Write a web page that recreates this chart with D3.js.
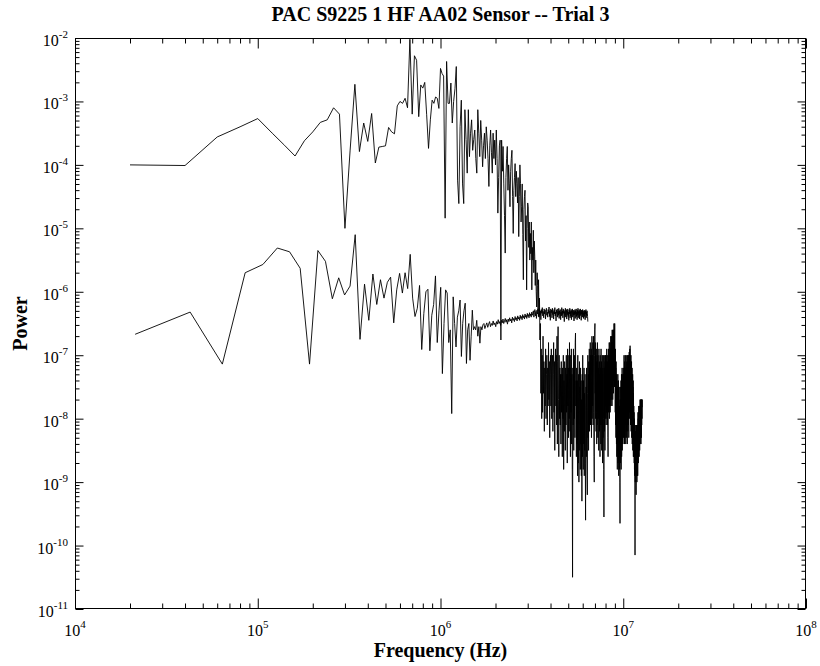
<!DOCTYPE html>
<html><head><meta charset="utf-8">
<script src="https://cdn.jsdelivr.net/npm/d3@7"></script>
<style>body{margin:0;background:#fff} svg{display:block}</style>
</head><body>
<svg id="chart" width="820" height="666"></svg>
<script>
const chartTitle = "PAC S9225 1 HF AA02 Sensor -- Trial 3";
const xAxisLabel = "Frequency (Hz)";
const yAxisLabel = "Power";
const xTickExponents = [4, 5, 6, 7, 8];
const yTickExponents = [-11, -10, -9, -8, -7, -6, -5, -4, -3, -2];

// Upper trace (signal): FFT bins starting at 20 kHz, 20 kHz apart; values are log10(Power)
const upperFreqStart = 20000;
const upperFreqStep = 20000;
const upperLog10Power = [
-4.00,-4.01,-3.56,-3.40,-3.27,-3.50,-3.69,-3.86,-3.62,-3.48,
-3.33,-3.29,-3.10,-3.20,-5.00,-3.78,-2.73,-3.79,-3.34,-3.63,
-3.19,-3.97,-3.72,-3.71,-3.70,-3.41,-3.48,-3.51,-3.07,-3.00,
-3.03,-2.95,-3.10,-2.02,-3.20,-2.28,-2.35,-3.24,-2.74,-2.79,
-2.70,-3.21,-3.74,-3.29,-2.98,-3.03,-2.93,-2.95,-3.11,-2.48,
-2.56,-2.60,-4.84,-2.37,-3.03,
-3.03,-2.71,-3.34,-3.0,-2.8,-2.45,-4.24,-4.61,-3.4,-2.98,
-4.3,-4.61,-3.13,-3.6,-4.13,-3.13,-3.87,-3.5,-3.29,-3.77,
-3.6,-3.45,-3.9,-4.13,-3.13,-3.5,-3.87,-3.3,-3.61,-4.03,
-3.7,-3.50,-3.9,-3.4,-3.61,-3.9,-4.34,-3.7,-3.45,-3.8,
-4.13,-3.5,-3.9,-3.61,-4.0,-3.45,-3.9,-4.76,-4.2,-3.7,
-3.61,-6.76,-3.61,-4.1,-3.71,-4.3,-4.8,-5.39,-4.2,-3.9,
-3.71,-4.4,-4.0,-4.3,-4.66,-4.1,-3.9,-3.77,-4.5,-5.08,
-4.4,-4.2,-3.98,-4.5,-4.1,-4.29,-4.6,-4.2,-5.13,-4.5,
-4.0,-4.29,-4.9,-4.66,-4.3,-5.1,-5.81,-4.7,-4.5,-4.40,
-5.2,-4.8,-5.97,-5.0,-4.6,-4.66,-5.3,-4.9,-5.5,-5.08,
-5.4,-4.9,-5.97,-5.3,-5.5,-5.03,-5.7,-5.2,-5.45,-5.9,
-5.5,-6.0,-6.24,-5.7,-5.9,-6.3,-5.81,-6.4,-6.1,-6.76,
-6.5,-7.6,-6.9,-8.0,-7.0,-7.9,-6.7,-7.6,-7.1,-8.2,-7.2,-7.8,-6.9,-8.0,-7.3,-7.0,-8.1,-7.2,-7.8,-6.8,-7.7,-7.1,-8.3,-7.3,-7.0,
-7.8,-6.9,-8.0,-7.2,-7.0,-8.2,-7.3,-6.8,-7.9,-7.1,-8.5,-7.2,-6.9,-7.8,-7.0,-8.1,-6.7,-8.4,-7.1,-6.55,-7.7,-8.6,-7.0,-8.0,-7.2,
-8.1,-7.3,-8.4,-7.1,-7.9,-7.3,-8.6,-7.2,-8.0,-7.0,-8.8,-7.4,-8.2,-7.1,-7.9,-8.5,-7.2,-8.1,-7.0,-7.9,-7.3,-8.7,-6.9,-7.8,-7.2,
-8.3,-7.0,-8.0,-6.8,-8.2,-7.2,-8.6,-7.0,-7.9,-6.9,-8.4,-7.3,-8.8,-10.5,-7.2,-8.1,-6.9,-8.5,-7.1,-8.0,-7.0,-8.3,-6.8,-6.65,-7.8,
-7.4,-8.6,-7.2,-8.4,-7.4,-8.9,-7.0,-8.3,-8.7,-7.3,-9.0,-7.6,-7.1,-8.5,-7.5,-8.8,-7.2,-8.4,-7.4,-8.9,-7.7,-9.3,-7.3,-8.6,-7.0,-8.3,-8.8,-7.4,-8.4,-7.2,-8.9,-7.6,-8.5,-7.3,-8.7,-9.6,-7.8,
-7.5,-8.6,-7.2,-8.4,-8.9,-9.2,-7.6,-7.0,-8.3,-7.3,-8.5,-7.1,-8.1,-6.9,-8.2,-7.2,-8.0,-6.8,-8.1,-7.0,-7.9,-6.9,-8.3,-7.1,-6.7,-8.0,-7.0,-7.8,-6.8,-8.1,-7.0,-6.7,-7.9,-8.6,-9.0,-7.0,-6.6,-6.5,
-7.6,-6.8,-8.0,-7.0,-8.2,-6.9,-7.9,-8.4,-7.1,-8.1,
-6.8,-7.8,-8.3,-7.0,-8.0,-7.2,-8.5,-6.9,-7.9,-7.1,
-8.2,-7.3,-8.6,-7.0,-8.1,-7.2,-8.4,-6.9,-8.0,-7.1,
-8.5,-7.3,-8.1,-7.0,-8.7,-7.4,-7.2,-8.3,-7.0,-8.0,
-8.8,-9.55,-7.4,-7.0,-8.2,-7.2,-8.5,-7.1,-8.0,-7.0,
-7.8,-7.0,-8.1,-7.1,-7.9,-6.9,-8.0,-7.2,-7.0,-8.1,
-7.1,-8.3,-8.6,-7.2,-6.9,-7.9,-7.0,-7.8,-6.8,-8.0,
-7.0,-7.7,-6.8,-7.9,-6.9,-7.6,-6.7,-7.8,-6.9,-7.7,
-6.7,-7.5,-6.8,-7.8,-6.6,-7.5,-6.8,-7.7,-6.6,-7.4,
-6.7,-7.6,-6.6,-7.4,-6.5,-7.3,-6.6,-7.5,-6.5,-7.2,
-7.0,-7.9,-6.9,-8.1,-7.2,-8.3,-7.1,-8.0,-8.4,-7.3,
-8.6,-7.4,-8.2,-8.8,-7.5,-8.4,-7.3,-8.7,-7.6,-8.5,
-7.4,-8.9,-7.7,-8.6,-7.5,-8.8,-7.8,-8.5,-9.0,-9.65,
-7.9,-7.5,-8.7,-7.7,-8.5,-7.4,-8.8,-7.8,-7.3,-8.6,
-7.6,-8.4,-7.2,-8.5,-7.5,-8.3,-7.3,-8.4,-7.4,-8.2,
-7.3,-8.3,-7.2,-8.1,-7.0,-8.2,-7.3,-8.4,-7.1,-8.0,
-7.2,-8.3,-7.0,-8.1,-7.3,-8.4,-7.2,-8.0,-7.0,-8.2,
-7.3,-8.3,-7.1,-8.1,-7.2,-8.4,-7.0,-8.0,-7.3,-8.2,
-7.1,-8.1,-7.0,-7.9,-7.2,-8.3,-7.0,-7.8,-6.95,-8.0,
-7.1,-7.9,-6.9,-7.7,-6.85,-7.8,-7.0,-8.1,-7.1,-7.9,
-7.0,-8.2,-7.2,-8.0,-7.1,-8.3,-7.3,-8.1,-7.2,-8.4,
-7.4,-8.2,-7.3,-8.5,-7.5,-8.3,-7.4,-8.6,-7.6,-8.4,
-7.8,-8.6,-7.9,-8.7,-8.0,-8.8,-8.1,-8.9,-8.2,-10.15,
-8.3,-9.0,-8.2,-8.9,-8.1,-8.8,-8.2,-9.2,-8.3,-8.9,
-8.1,-8.8,-8.2,-9.0,-8.3,-8.9,-8.1,-8.8,-8.2,-8.9,
-8.3,-7.9,-8.6,-8.0,-8.7,-7.9,-8.5,-7.8,-8.4,-7.9,
-8.6,-7.8,-8.4,-7.9,-8.5,-7.8,-8.3,-7.7,-8.4,-7.8,
-8.3,-7.7,-8.2,-7.8,-8.4,-7.7,-8.2,-7.75,-8.3,-7.7,
-8.1,-7.7,-8.0,-7.7,-7.82
];

// Lower trace (noise): FFT bins 21.333 kHz apart; values are log10(Power)
const lowerFreqStart = 21333.33;
const lowerFreqStep = 21333.33;
const lowerLog10Power = [
-6.67,-6.32,-7.14,-5.70,-5.57,-5.31,-5.37,-5.63,-7.14,-5.35,-5.52,-6.11,-5.78,-6.05,-5.91,-5.10,
-6.75,-5.88,-6.45,-5.72,-6.20,-5.81,-6.1,-5.85,-5.77,-6.49,-5.97,-5.71,-6.02,-5.70,
-5.95,-5.41,-6.1,-6.39,-6.26,-5.9,-6.91,-6.34,-6.0,-5.96,-6.93,-6.37,-6.2,-5.75,-6.8,-6.3,
-5.93,-7.29,-6.5,-5.97,-6.02,-6.8,-6.6,-7.92,-6.08,-6.5,-6.87,-6.4,-6.3,-6.13,
-7.02,-6.5,-6.3,-6.18,-7.13,-6.6,-6.50,-7.08,-6.7,-6.29,-6.6,-6.55,-6.60,-6.45,-6.7,-6.55,-6.81,-6.55,-6.6,-6.52,
-6.50,-6.58,-6.53,-6.49,-6.56,-6.51,-6.47,-6.55,-6.50,-6.53,
-6.46,-6.52,-6.49,-6.55,-6.47,-6.51,-6.44,-6.50,-6.47,-6.53,
-6.45,-6.49,-6.43,-6.50,-6.46,-6.42,-6.48,-6.44,-6.51,-6.43,
-6.47,-6.41,-6.46,-6.43,-6.49,-6.40,-6.45,-6.42,-6.47,-6.39,
-6.44,-6.41,-6.46,-6.38,-6.43,-6.40,-6.45,-6.37,-6.42,-6.39,
-6.44,-6.36,-6.41,-6.38,-6.43,-6.35,-6.40,-6.37,-6.42,-6.34,
-6.39,-6.36,-6.41,-6.33,-6.38,-6.35,-6.40,-6.32,-6.37,-6.34,
-6.30,-6.40,-6.33,-6.28,-6.38,-6.31,-6.42,-6.29,-6.35,-6.27,
-6.39,-6.32,-6.26,-6.37,-6.30,-6.44,-6.28,-6.34,-6.25,-6.38,
-6.31,-6.41,-6.27,-6.35,-6.29,-6.43,-6.30,-6.26,-6.37,-6.32,
-6.40,-6.28,-6.34,-6.24,-6.39,-6.30,-6.45,-6.27,-6.33,-6.29,
-6.41,-6.26,-6.36,-6.31,-6.43,-6.28,-6.35,-6.25,-6.38,-6.32,
-6.46,-6.29,-6.34,-6.27,-6.40,-6.31,-6.37,-6.26,-6.42,-6.30,
-6.35,-6.28,-6.44,-6.32,-6.38,-6.25,-6.36,-6.30,-6.41,-6.27,
-6.34,-6.29,-6.47,-6.31,-6.37,-6.26,-6.40,-6.33,-6.28,-6.43,
-6.30,-6.36,-6.27,-6.39,-6.32,-6.45,-6.29,-6.35,-6.26,-6.41,
-6.31,-6.38,-6.28,-6.44,-6.30,-6.34,-6.27,-6.40,-6.33,-6.37,
-6.29,-6.46,-6.31,-6.36,-6.28,-6.42,-6.30,-6.35,-6.27,-6.39,
-6.32,-6.44,-6.29,-6.37,-6.26,-6.41,-6.31,-6.34,-6.28,-6.43,
-6.30,-6.38,-6.27,-6.36,-6.32,-6.45,-6.29,-6.35,-6.31,-6.40,
-6.28,-6.37,-6.30,-6.42,-6.33,-6.36,-6.29,-6.39,-6.31,-6.44,
-6.30,-6.35,-6.28,-6.41,-6.32,-6.37,-6.30,-6.34,-6.39,-6.47
];

const plot = {left: 75, right: 806, top: 38, bottom: 609};
const serif = "'Liberation Serif','Times New Roman',serif";

const x = d3.scaleLog().domain([1e4, 1e8]).range([plot.left, plot.right]);
const y = d3.scaleLog().domain([1e-11, 1e-2]).range([plot.bottom, plot.top]);

const svg = d3.select("#chart");

const upperData = upperLog10Power.map((v, i) => ({f: upperFreqStart + i * upperFreqStep, p: Math.pow(10, v)}));
const lowerData = lowerLog10Power.map((v, i) => ({f: lowerFreqStart + i * lowerFreqStep, p: Math.pow(10, v)}));

svg.append("defs").append("clipPath").attr("id", "clip")
  .append("rect").attr("x", plot.left).attr("y", plot.top)
  .attr("width", plot.right - plot.left).attr("height", plot.bottom - plot.top);

const line = d3.line().x(d => x(d.f)).y(d => y(d.p));
const g = svg.append("g").attr("clip-path", "url(#clip)");
g.append("path").datum(lowerData).attr("d", line)
  .attr("fill", "none").attr("stroke", "#000").attr("stroke-width", 0.9);
g.append("path").datum(upperData).attr("d", line)
  .attr("fill", "none").attr("stroke", "#000").attr("stroke-width", 0.9);

// ticks
const majorX = xTickExponents.map(e => Math.pow(10, e));
const minorX = [];
xTickExponents.slice(0, -1).forEach(e => { for (let m = 2; m <= 9; m++) minorX.push(m * Math.pow(10, e)); });
const majorY = yTickExponents.map(e => Math.pow(10, e));
const minorY = [];
yTickExponents.slice(0, -1).forEach(e => { for (let m = 2; m <= 9; m++) minorY.push(m * Math.pow(10, e)); });

function ax(gen, scale, vals, size, tx, ty) {
  const a = svg.append("g").attr("transform", `translate(${tx},${ty})`)
    .call(gen(scale).tickValues(vals).tickSize(size).tickFormat(""));
  a.select(".domain").remove();
  a.selectAll("line").attr("stroke", "#000").attr("stroke-width", 1);
  return a;
}
ax(d3.axisBottom, x, majorX, -10, 0, plot.bottom - 0.5);
ax(d3.axisBottom, x, minorX, -5, 0, plot.bottom - 0.5);
ax(d3.axisTop, x, majorX, -10, 0, plot.top + 0.5);
ax(d3.axisTop, x, minorX, -5, 0, plot.top + 0.5);
ax(d3.axisLeft, y, majorY, -8, plot.left + 0.5, 0);
ax(d3.axisLeft, y, minorY, -4, plot.left + 0.5, 0);
ax(d3.axisRight, y, majorY, -8, plot.right - 0.5, 0);
ax(d3.axisRight, y, minorY, -4, plot.right - 0.5, 0);

svg.append("rect").attr("x", plot.left + 0.5).attr("y", plot.top + 0.5)
  .attr("width", plot.right - plot.left - 1).attr("height", plot.bottom - plot.top - 1)
  .attr("fill", "none").attr("stroke", "#000").attr("stroke-width", 1);

// tick labels
xTickExponents.forEach(e => {
  const t = svg.append("text").attr("x", x(Math.pow(10, e))).attr("y", 636)
    .attr("text-anchor", "middle").attr("font-family", serif).attr("font-size", 16).attr("fill", "#000");
  t.append("tspan").text("10");
  t.append("tspan").attr("dy", -8).attr("font-size", 11).text(String(e));
});
yTickExponents.forEach(e => {
  const t = svg.append("text").attr("x", 68).attr("y", y(Math.pow(10, e)) + 8)
    .attr("text-anchor", "end").attr("font-family", serif).attr("font-size", 16).attr("fill", "#000");
  t.append("tspan").text("10");
  t.append("tspan").attr("dy", -8).attr("font-size", 11).text(String(e));
});

svg.append("text").attr("x", (plot.left + plot.right) / 2).attr("y", 21)
  .attr("text-anchor", "middle").attr("font-family", serif).attr("font-weight", "bold")
  .attr("font-size", 20).text(chartTitle);
svg.append("text").attr("x", (plot.left + plot.right) / 2).attr("y", 657)
  .attr("text-anchor", "middle").attr("font-family", serif).attr("font-weight", "bold")
  .attr("font-size", 20).text(xAxisLabel);
svg.append("text").attr("transform", `translate(27,${(plot.top + plot.bottom) / 2}) rotate(-90)`)
  .attr("text-anchor", "middle").attr("font-family", serif).attr("font-weight", "bold")
  .attr("font-size", 20).text(yAxisLabel);
</script>
</body></html>
